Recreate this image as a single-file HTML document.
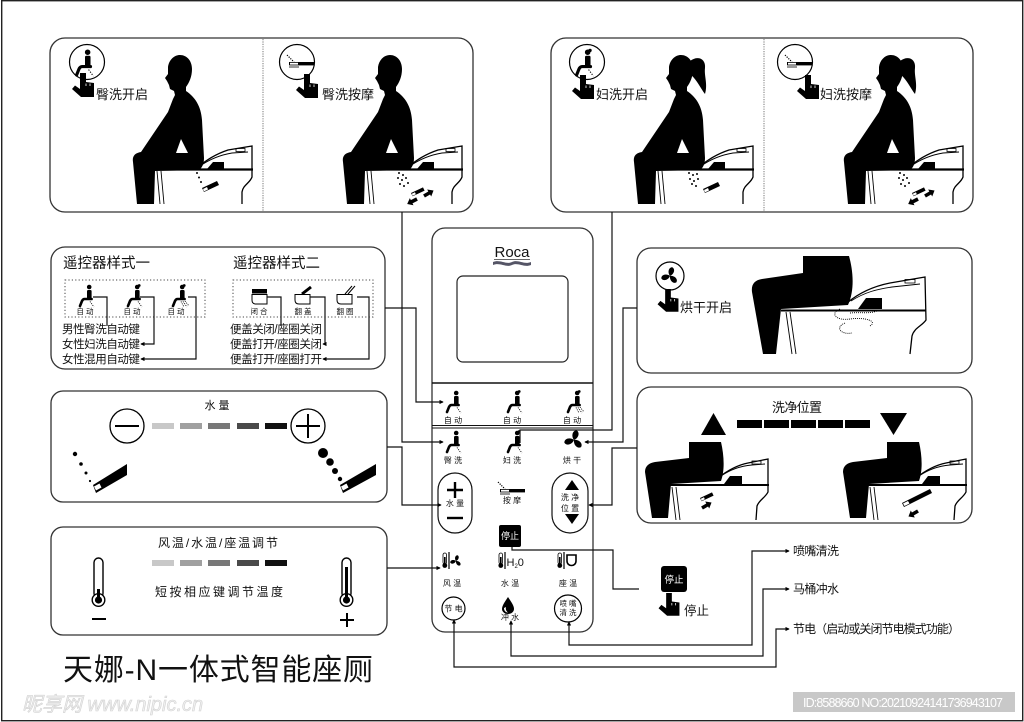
<!DOCTYPE html>
<html><head><meta charset="utf-8">
<style>
html,body{margin:0;padding:0;background:#fff;}
svg{display:block;}
text{font-family:"Liberation Sans","Noto Sans CJK SC",sans-serif;fill:#111;}
</style></head><body>
<svg width="1024" height="722" viewBox="0 0 1024 722" xmlns="http://www.w3.org/2000/svg">
<defs>
<marker id="ar" viewBox="0 0 6 6" refX="5" refY="3" markerWidth="3.5" markerHeight="3.5" orient="auto-start-reverse"><path d="M0,0 L6,3 L0,6 Z" fill="#000"/></marker>
<g id="man">
<path d="M180,55 C187,55 192,61 192,69 C192,77 189,83 186,87 L186,91 C195,97 201,106 202,120 L204,158 C204,164 202,168 199,170 L155,171 L154,204 L137,204 L133,162 C132,156 135,153 141,152 L168,112 L173,99 L175,95 L174,91 L170,89 L169,85 L167,81 L165,78 L168,74 L168,67 C169,60 174,55 180,55 Z" fill="#000"/>
<path d="M181,139 L176,153 L188,153 Z" fill="#fff"/>
</g>
<g id="woman">
<use href="#man"/>
<path d="M189,61 C197,55 205,59 204,68 C203,76 207,84 204,94 C200,89 196,80 190,75 Z" fill="#000"/>
</g>
<g id="toilet" fill="none" stroke="#000">
<path d="M155,169.5 L253,169.5" stroke-width="2.2"/>
<path d="M157,171 L160,204 M161,171 L164,204" stroke-width="0.9"/>
<path d="M197,168 C206,160 216,154 228,150 L252,146 L252,177 C250,183 243,185 242,192 L242,204" stroke-width="1.3"/>
<path d="M200,166 C210,159 220,155 232,153 L248,152" stroke-width="0.9"/>
<rect x="236" y="148.5" width="9" height="3" stroke-width="0.8"/>
<path d="M207,169 L213,162 L224,162 L224,169 Z" fill="#000" stroke="none"/>
</g>
<g id="noz"><path d="M0,0 L15,-7 L17,-3 L2,4 Z" fill="#000"/><path d="M1,1 L5,-1 L6,1.5 L2,3.4Z" fill="#fff"/></g>
<g id="arw"><path d="M0,-1.8 L6,-1.8 L6,-4 L11,0 L6,4 L6,1.8 L0,1.8 Z" fill="#000"/></g>
<g id="sit">
<circle cx="2.2" cy="-9" r="2.3" fill="#000"/>
<rect x="0" y="-6" width="4.6" height="9.5" rx="1.2" fill="#000"/>
<path d="M4.6,3 L-2.5,3 Q-4,3 -5,5 L-7,10" fill="none" stroke="#000" stroke-width="2.6" stroke-linecap="round" stroke-linejoin="round"/>
<path d="M3,5.5 L7,11" fill="none" stroke="#000" stroke-width="0.9" stroke-dasharray="1,1.2"/>
</g>
<g id="sitw"><use href="#sit"/><circle cx="4.2" cy="-10.5" r="1.4" fill="#000"/></g>
<g id="sitm"><use href="#sitw"/><path d="M1,5.5 L4,11 M5,5 L9,10" fill="none" stroke="#000" stroke-width="0.9" stroke-dasharray="1,1.2"/></g>
<g id="mas">
<path d="M-12,-7 L-5,0" stroke="#000" stroke-width="1.2" stroke-dasharray="1.2,1.2"/>
<rect x="-10" y="0" width="25" height="3.4" fill="#000"/>
<rect x="-9" y="0.8" width="8" height="1.8" fill="#fff"/>
<path d="M-10,5 L0,5" stroke="#000" stroke-width="0.8"/>
</g>
<g id="hand"><path d="M-3,0 L3,0 L3,9 L11,10 L11,24 L-2,24 L-11,16 L-8,12.5 L-3,16 Z" fill="#000"/><path d="M3,10.5 L3,13 M7,10.5 L7,13" stroke="#fff" stroke-width="0.8"/></g>
<g id="fan">
<path d="M0,0 C-4,-3 -4,-9 0,-10 C4,-9 4,-3 0,0 Z" fill="#000" transform="rotate(15)"/>
<path d="M0,0 C-4,-3 -4,-9 0,-10 C4,-9 4,-3 0,0 Z" fill="#000" transform="rotate(135)"/>
<path d="M0,0 C-4,-3 -4,-9 0,-10 C4,-9 4,-3 0,0 Z" fill="#000" transform="rotate(255)"/>
</g>
<g id="thermo">
<rect x="0" y="0" width="3.6" height="11" rx="1.8" fill="#fff" stroke="#000" stroke-width="0.8"/>
<rect x="1" y="4" width="1.6" height="8" fill="#000"/>
<circle cx="1.8" cy="12.5" r="2.4" fill="#000"/>
</g>
</defs>

<!-- frame -->
<rect x="1.7" y="0.7" width="1021" height="720" fill="none" stroke="#222" stroke-width="1.4"/>

<!-- boxes -->
<g fill="none" stroke="#333" stroke-width="1.3">
<rect x="50" y="38" width="423" height="174" rx="15"/>
<rect x="551" y="38" width="422" height="174" rx="15"/>
<rect x="51" y="247" width="334" height="122" rx="14"/>
<rect x="51" y="391" width="336" height="111" rx="12"/>
<rect x="51" y="527" width="336" height="108" rx="12"/>
<rect x="637" y="248" width="335" height="125" rx="14"/>
<rect x="637" y="387" width="335" height="136" rx="14"/>
<rect x="432" y="228" width="161" height="404" rx="13"/>
</g>
<line x1="263" y1="39" x2="263" y2="211" stroke="#777" stroke-width="1" stroke-dasharray="1.2,1.2"/>
<line x1="764" y1="39" x2="764" y2="211" stroke="#777" stroke-width="1" stroke-dasharray="1.2,1.2"/>

<!-- top panel 1 -->
<use href="#man"/>
<use href="#toilet"/>
<use href="#noz" transform="translate(202,188)"/>
<g fill="#000"><circle cx="197" cy="173" r="1"/><circle cx="199" cy="177.5" r="1"/><circle cx="201" cy="182" r="1"/></g>
<circle cx="87" cy="62" r="17.5" fill="#fff" stroke="#000" stroke-width="1.2"/>
<use href="#sit" transform="translate(85,63) scale(1.2)"/>
<use href="#hand" transform="translate(83,73)"/>
<text x="96" y="99" font-size="13">臀洗开启</text>

<!-- top panel 2 -->
<use href="#man" transform="translate(210,0)"/>
<use href="#toilet" transform="translate(210,0)"/>
<use href="#noz" transform="translate(411,193) scale(0.8)"/>
<g fill="#000"><circle cx="399" cy="173" r="1"/><circle cx="403" cy="175" r="1"/><circle cx="398" cy="178" r="1"/><circle cx="402" cy="180" r="1"/><circle cx="406" cy="178" r="1"/><circle cx="400" cy="184" r="1"/><circle cx="404" cy="186" r="1"/><circle cx="408" cy="183" r="1"/></g>
<use href="#arw" transform="translate(424,196) rotate(-30)"/>
<use href="#arw" transform="translate(417,199) rotate(153)"/>
<circle cx="297" cy="62" r="17.5" fill="#fff" stroke="#000" stroke-width="1.2"/>
<use href="#mas" transform="translate(299,62)"/>
<use href="#hand" transform="translate(307,74)"/>
<text x="322" y="99" font-size="13">臀洗按摩</text>

<!-- top panel 3 -->
<use href="#woman" transform="translate(501,0)"/>
<use href="#toilet" transform="translate(501,0)"/>
<use href="#noz" transform="translate(703,189)"/>
<g fill="#000"><circle cx="689" cy="173" r="1"/><circle cx="693" cy="175" r="1"/><circle cx="697" cy="174" r="1"/><circle cx="690" cy="179" r="1"/><circle cx="694" cy="181" r="1"/><circle cx="698" cy="179" r="1"/><circle cx="692" cy="184" r="1"/><circle cx="696" cy="186" r="1"/></g>
<circle cx="587" cy="62" r="17.5" fill="#fff" stroke="#000" stroke-width="1.2"/>
<use href="#sitw" transform="translate(585,63) scale(1.2)"/>
<use href="#hand" transform="translate(583,75)"/>
<text x="596" y="99" font-size="13">妇洗开启</text>

<!-- top panel 4 -->
<use href="#woman" transform="translate(711,0)"/>
<use href="#toilet" transform="translate(711,0)"/>
<use href="#noz" transform="translate(912,193) scale(0.8)"/>
<g fill="#000"><circle cx="900" cy="173" r="1"/><circle cx="904" cy="175" r="1"/><circle cx="899" cy="178" r="1"/><circle cx="903" cy="180" r="1"/><circle cx="907" cy="178" r="1"/><circle cx="901" cy="184" r="1"/><circle cx="905" cy="186" r="1"/><circle cx="909" cy="183" r="1"/></g>
<use href="#arw" transform="translate(925,196) rotate(-30)"/>
<use href="#arw" transform="translate(918,199) rotate(153)"/>
<circle cx="795" cy="62" r="17.5" fill="#fff" stroke="#000" stroke-width="1.2"/>
<use href="#mas" transform="translate(797,62)"/>
<use href="#hand" transform="translate(808,75)"/>
<text x="820" y="99" font-size="13">妇洗按摩</text>

<!-- remote style box -->
<text x="63" y="268" font-size="14.5" textLength="87">遥控器样式一</text>
<text x="233" y="268" font-size="14.5" textLength="87">遥控器样式二</text>
<rect x="65" y="280" width="140" height="37" fill="none" stroke="#444" stroke-width="1" stroke-dasharray="1.2,2.2"/>
<rect x="233" y="280" width="140" height="37" fill="none" stroke="#444" stroke-width="1" stroke-dasharray="1.2,2.2"/>
<use href="#sit" transform="translate(87,296)"/>
<use href="#sitw" transform="translate(135,296)"/>
<use href="#sitm" transform="translate(180,296)"/>
<g font-size="7.5" text-anchor="middle"><text x="85" y="314">自 动</text><text x="132" y="314">自 动</text><text x="176" y="314">自 动</text>
<text x="259" y="314">闭 合</text><text x="303" y="314">翻 盖</text><text x="345" y="314">翻 圈</text></g>
<rect x="252" y="289" width="15" height="4.5" fill="#000"/>
<path d="M252,294.5 L252,300 Q252,304 256,304 L267,304 L267,294.5 Z" fill="none" stroke="#000" stroke-width="1"/>
<path d="M295,294.5 L295,300 Q295,304 299,304 L310,304 L310,294.5 Z" fill="none" stroke="#000" stroke-width="1"/>
<path d="M302,294 L311,287" stroke="#000" stroke-width="3"/>
<path d="M337,294.5 L337,300 Q337,304 341,304 L352,304 L352,294.5 Z" fill="none" stroke="#000" stroke-width="1"/>
<path d="M345,294 L352,286 M348,294 L355,286" stroke="#000" stroke-width="1"/>
<g fill="none" stroke="#111" stroke-width="1.2">
<polyline points="93,297 107,297 107,326"/>
<polyline points="140,297 154,297 154,344 141,344" marker-end="url(#ar)"/>
<polyline points="188,297 196,297 196,359 141,359" marker-end="url(#ar)"/>
<polyline points="267,297 281,297 281,326"/>
<polyline points="310,297 325,297 325,344 323,344" marker-end="url(#ar)"/>
<polyline points="357,297 369,297 369,359 323,359" marker-end="url(#ar)"/>
</g>
<g font-size="11.5">
<text x="62" y="333" textLength="78">男性臀洗自动键</text>
<text x="62" y="348" textLength="78">女性妇洗自动键</text>
<text x="62" y="363" textLength="78">女性混用自动键</text>
<text x="230" y="333" textLength="92">便盖关闭/座圈关闭</text>
<text x="230" y="348" textLength="92">便盖打开/座圈关闭</text>
<text x="230" y="363" textLength="92">便盖打开/座圈打开</text>
</g>

<!-- water box -->
<text x="217" y="409" font-size="11" text-anchor="middle">水 量</text>
<circle cx="127" cy="426" r="17" fill="none" stroke="#000" stroke-width="1.3"/>
<line x1="115" y1="426" x2="139" y2="426" stroke="#000" stroke-width="2"/>
<circle cx="308" cy="426" r="17" fill="none" stroke="#000" stroke-width="1.3"/>
<path d="M296,426 L320,426 M308,414 L308,438" stroke="#000" stroke-width="2"/>
<g>
<rect x="152" y="423" width="22" height="6" fill="#c8c8c8"/>
<rect x="180" y="423" width="22" height="6" fill="#a0a0a0"/>
<rect x="208" y="423" width="22" height="6" fill="#787878"/>
<rect x="237" y="423" width="22" height="6" fill="#4a4a4a"/>
<rect x="265" y="423" width="22" height="6" fill="#111"/>
</g>
<g fill="#000"><circle cx="75" cy="454" r="2.2"/><circle cx="81" cy="464" r="1.8"/><circle cx="86" cy="473" r="1.5"/><circle cx="90" cy="481" r="1.1"/>
<circle cx="323" cy="453" r="5"/><circle cx="330" cy="462" r="3.8"/><circle cx="335" cy="471" r="3"/><circle cx="340" cy="479" r="2.2"/></g>
<path d="M93,485 L127,464 L127,475 L96,493 Z" fill="#000"/>
<path d="M94,486.5 L99.5,483.5 L101.5,487.5 L96,490.5 Z" fill="#fff"/>
<path d="M340,485 L376,464 L376,475 L343,493 Z" fill="#000"/>
<path d="M341,486.5 L346.5,483.5 L348.5,487.5 L343,490.5 Z" fill="#fff"/>

<!-- temperature box -->
<text x="218" y="547" font-size="12" text-anchor="middle" textLength="120">风温/水温/座温调节</text>
<rect x="152" y="560" width="22" height="6" fill="#c8c8c8"/>
<rect x="180" y="560" width="22" height="6" fill="#a0a0a0"/>
<rect x="208" y="560" width="22" height="6" fill="#787878"/>
<rect x="237" y="560" width="22" height="6" fill="#4a4a4a"/>
<rect x="265" y="560" width="22" height="6" fill="#111"/>
<text x="219" y="596" font-size="12" text-anchor="middle" textLength="128">短按相应键调节温度</text>
<rect x="94" y="558" width="9" height="40" rx="4.5" fill="#fff" stroke="#000" stroke-width="1.4"/>
<circle cx="98.5" cy="600" r="6.3" fill="#fff" stroke="#000" stroke-width="1.4"/>
<rect x="97" y="589" width="3" height="11" fill="#000"/><circle cx="98.5" cy="600" r="3.6" fill="#000"/>
<line x1="92" y1="619" x2="106" y2="619" stroke="#000" stroke-width="2"/>
<rect x="342" y="558" width="9" height="40" rx="4.5" fill="#fff" stroke="#000" stroke-width="1.4"/>
<circle cx="346.5" cy="600" r="6.3" fill="#fff" stroke="#000" stroke-width="1.4"/>
<rect x="345" y="567" width="3" height="33" fill="#000"/><circle cx="346.5" cy="600" r="3.6" fill="#000"/>
<path d="M340,620 L354,620 M347,613 L347,627" stroke="#000" stroke-width="2"/>

<!-- title -->
<text x="63" y="680" font-size="30" textLength="310">天娜-N一体式智能座厕</text>
<text x="22" y="711" font-size="20" font-style="italic" style="fill:#f0f0f0" stroke="#d2d2d2" stroke-width="0.6">昵享网 www.nipic.cn</text>

<!-- remote panel -->
<text x="512" y="257" font-size="15" text-anchor="middle" font-family="Liberation Sans">Roca</text>
<line x1="494" y1="259.5" x2="530" y2="259.5" stroke="#333" stroke-width="0.8"/>
<path d="M493,262 C500,259 506,265 512,262 C518,259 524,265 531,262 L531,265 C524,268 518,262 512,265 C506,268 500,262 493,265 Z" fill="#556"/>
<rect x="457" y="276" width="111" height="86" rx="6" fill="none" stroke="#222" stroke-width="1.2"/>
<line x1="432" y1="383" x2="593" y2="383" stroke="#111" stroke-width="1.6"/>
<line x1="432" y1="425.5" x2="593" y2="425.5" stroke="#111" stroke-width="1"/>
<line x1="432" y1="428" x2="593" y2="428" stroke="#111" stroke-width="1"/>
<use href="#sit" transform="translate(454,402)"/>
<use href="#sitw" transform="translate(515,402)"/>
<use href="#sitm" transform="translate(575,402)"/>
<use href="#sit" transform="translate(454,442)"/>
<use href="#sitw" transform="translate(515,442)"/>
<use href="#fan" transform="translate(574,440)"/>
<g font-size="8" text-anchor="middle" style="fill:#222">
<text x="453" y="423">自 动</text><text x="512" y="423">自 动</text><text x="572" y="423">自 动</text>
<text x="453" y="463">臀 洗</text><text x="512" y="463">妇 洗</text><text x="572" y="463">烘 干</text>
<text x="512" y="503">按 摩</text>
<text x="455" y="506">水 量</text>
<text x="570" y="500">洗 净</text><text x="570" y="511">位 置</text>
<text x="452" y="586">风 温</text><text x="510" y="586">水 温</text><text x="568" y="586">座 温</text>
<text x="510" y="620">冲 水</text>
</g>
<use href="#mas" transform="translate(510,489)"/>
<rect x="438" y="473" width="34" height="60" rx="17" fill="none" stroke="#111" stroke-width="1.2"/>
<path d="M447,490 L463,490 M455,482 L455,498" stroke="#000" stroke-width="2.4"/>
<line x1="447" y1="518" x2="463" y2="518" stroke="#000" stroke-width="2.4"/>
<rect x="552" y="473" width="36" height="60" rx="18" fill="none" stroke="#111" stroke-width="1.2"/>
<path d="M565,490 L579,490 L572,480 Z" fill="#000"/>
<path d="M565,514 L579,514 L572,524 Z" fill="#000"/>
<rect x="499" y="525" width="22" height="22" rx="2" fill="#000"/>
<text x="510" y="539" font-size="9" text-anchor="middle" style="fill:#fff">停止</text>
<use href="#thermo" transform="translate(443,553)"/>
<line x1="449" y1="552" x2="449" y2="569" stroke="#000" stroke-width="1.2"/>
<use href="#fan" transform="translate(456,561) scale(0.6)"/>
<use href="#thermo" transform="translate(499,553)"/>
<line x1="505" y1="552" x2="505" y2="569" stroke="#000" stroke-width="1.2"/>
<text x="506.5" y="566" font-size="11" font-family="Liberation Sans">H<tspan font-size="6" dy="2">2</tspan><tspan dy="-2">0</tspan></text>
<use href="#thermo" transform="translate(558,553)"/>
<line x1="564" y1="552" x2="564" y2="569" stroke="#000" stroke-width="1.2"/>
<path d="M567,555 L576,555 L576,561 C576,567 567,567 567,561 Z" fill="none" stroke="#000" stroke-width="1.6"/>
<circle cx="453.5" cy="608.5" r="11.5" fill="none" stroke="#000" stroke-width="1.2"/>
<text x="453.5" y="611.5" font-size="8" text-anchor="middle">节 电</text>
<path d="M508,597 C512,603 514,606 514,609 C514,612 511,614 508,614 C505,614 502,612 502,609 C502,606 504,603 508,597 Z" fill="#000"/>
<path d="M504,608 C504,611 506,612.5 508,612.5 C506,611 505.5,609 506,607 Z" fill="#fff"/>
<circle cx="568" cy="608.5" r="13.5" fill="none" stroke="#000" stroke-width="1.2"/>
<text x="568" y="606" font-size="7.5" text-anchor="middle">喷 嘴</text>
<text x="568" y="615" font-size="7.5" text-anchor="middle">清 洗</text>

<!-- drying box -->
<circle cx="670" cy="276" r="14" fill="#fff" stroke="#000" stroke-width="1.2"/>
<use href="#fan" transform="translate(670,276) scale(0.9)"/>
<use href="#hand" transform="translate(668,289) scale(0.95)"/>
<text x="680" y="312" font-size="13">烘干开启</text>
<path d="M803,256 L849,256 C853,270 855,290 848,305 L781,309 L776,354 L763,354 L752,292 C751,284 755,280 762,279 L803,273 Z" fill="#000"/>
<g fill="none" stroke="#000">
<path d="M781,310.5 L926,310.5" stroke-width="2"/>
<path d="M786,312 L792,354 M790,312 L796,354" stroke-width="0.9"/>
<path d="M847,303 C860,292 875,286 890,283 L925,277 L926,320 C922,326 914,328 912,336 L910,354" stroke-width="1.3"/>
<path d="M851,301 C865,292 878,289 892,287 L920,284" stroke-width="0.9"/>
<rect x="905" y="279.5" width="10" height="3.5" stroke-width="0.8"/>
<path d="M840,309 C830,313 835,321 850,319 C865,317 878,321 870,326 M845,323 C835,327 840,335 852,333 M850,313 C860,312 870,314 877,311" stroke-width="0.9" stroke-dasharray="1,1"/>
</g>
<path d="M858,309 L866,298 L882,298 L882,309 Z" fill="#000"/>

<!-- position box -->
<text x="797" y="412" font-size="13" text-anchor="middle" textLength="50">洗净位置</text>
<path d="M701,435 L726,435 L713.5,413 Z" fill="#000"/>
<path d="M880,413 L907,413 L893.5,435 Z" fill="#000"/>
<g fill="#000"><rect x="737" y="420" width="25" height="8"/><rect x="764" y="420" width="25" height="8"/><rect x="791" y="420" width="25" height="8"/><rect x="818" y="420" width="25" height="8"/><rect x="845" y="420" width="25" height="8"/></g>
<g id="posfig">
<path d="M689,442 L721,442 C724,455 725,470 721,481 L671,484 L668,518 L652,518 L645,472 C645,466 649,463 655,462 L689,458 Z" fill="#000"/>
<g fill="none" stroke="#000">
<path d="M670,485 L769,485" stroke-width="2"/>
<path d="M672,487 L676,520 M676,487 L680,520" stroke-width="0.9"/>
<path d="M718,478 C728,470 738,465 748,463 L768,459 L768,492 C765,498 759,500 757,506 L756,520" stroke-width="1.3"/>
<path d="M721,476 C731,469 741,466 752,465 L765,464" stroke-width="0.9"/>
<rect x="752" y="461" width="9" height="3" stroke-width="0.8"/>
</g>
<path d="M724,484 L730,476 L742,476 L742,484 Z" fill="#000"/>
</g>
<use href="#noz" transform="translate(700,498) scale(0.8)"/>
<use href="#arw" transform="translate(702,508) rotate(-30)"/>
<use href="#posfig" transform="translate(198,0)"/>
<path d="M902,503 L930,489 L932,493 L904,507 Z" fill="#000"/>
<path d="M903,503.5 L908,501 L909.5,503.5 L904.5,506 Z" fill="#fff"/>
<use href="#arw" transform="translate(918,511) rotate(150)"/>

<!-- stop icon -->
<rect x="661" y="566" width="26" height="26" rx="3" fill="#000"/>
<text x="674" y="583" font-size="9.5" text-anchor="middle" style="fill:#fff">停止</text>
<use href="#hand" transform="translate(669,593) scale(0.95)"/>
<text x="684" y="615" font-size="12.5">停止</text>

<!-- connectors -->
<g fill="none" stroke="#111" stroke-width="1.2">
<polyline points="402,212 402,442 443,442" marker-end="url(#ar)"/>
<polyline points="385,308 416,308 416,402 443,402" marker-end="url(#ar)"/>
<polyline points="387,447 402,447 402,505 441,505" marker-end="url(#ar)"/>
<polyline points="387,568 440,568" marker-end="url(#ar)"/>
<polyline points="612,212 612,430 520,430 520,443"/>
<polyline points="637,308 623,308 623,442 585,442" marker-end="url(#ar)"/>
<polyline points="637,448 612,448 612,505 589,505" marker-end="url(#ar)"/>
<polyline points="512,547 512,550 613,550 613,589 639,589"/>
<polyline points="569,622 569,645 752,645 752,551 789,551" marker-start="url(#ar)" marker-end="url(#ar)"/>
<polyline points="511,621 511,656 763,656 763,589 789,589" marker-start="url(#ar)" marker-end="url(#ar)"/>
<polyline points="454,620 454,667 776,667 776,629 789,629" marker-start="url(#ar)" marker-end="url(#ar)"/>
</g>
<g font-size="12">
<text x="793" y="555" textLength="46">喷嘴清洗</text>
<text x="793" y="593" textLength="46">马桶冲水</text>
<text x="793" y="633" textLength="167">节电（启动或关闭节电模式功能）</text>
</g>

<!-- id box -->
<rect x="793" y="692" width="222" height="20" fill="#c8c8c8"/>
<text x="803" y="707" font-size="12.5" textLength="200" style="fill:#fff" font-family="Liberation Sans">ID:8588660 NO:20210924141736943107</text>
</svg>
</body></html>
